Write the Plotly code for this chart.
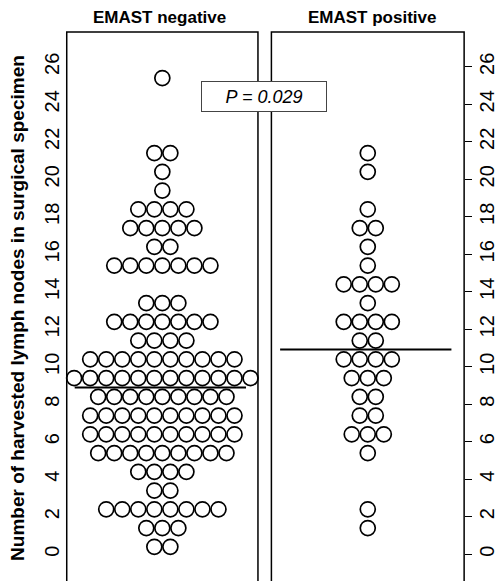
import plotly.graph_objects as go

# ---- data ----
group_names = ["EMAST negative", "EMAST positive"]

neg_levels = [25.4, 21.4, 20.4, 19.4, 18.4, 17.4, 16.4, 15.4, 13.4, 12.4, 11.4,
              10.4, 9.4, 8.4, 7.4, 6.4, 5.4, 4.4, 3.4, 2.4, 1.4, 0.4]
neg_counts = [1, 2, 1, 1, 4, 5, 2, 7, 3, 7, 4,
              10, 12, 9, 10, 10, 9, 4, 2, 8, 3, 2]

pos_levels = [21.4, 20.4, 18.4, 17.4, 16.4, 15.4, 14.4, 13.4, 12.4, 11.4,
              10.4, 9.4, 8.4, 7.4, 6.4, 5.4, 2.4, 1.4]
pos_counts = [1, 1, 1, 2, 1, 1, 4, 1, 4, 2,
              4, 3, 2, 2, 3, 1, 1, 1]

center_lines = [8.9, 10.92]
p_text = "P = 0.029"
y_ticks = list(range(0, 27, 2))
y_title = "Number of harvested lymph nodes in surgical specimen"

FONT = "Liberation Sans, Arial, Helvetica, sans-serif"
W, H = 498, 581
SPACING = 16.1  # horizontal spacing of swarm points (axis units = px)


def swarm(levels, counts):
    xs, ys = [], []
    for lv, c in zip(levels, counts):
        for i in range(c):
            xs.append((i - (c - 1) / 2) * SPACING)
            ys.append(lv)
    return xs, ys


fig = go.Figure()
for (lv, ct), xa in zip([(neg_levels, neg_counts), (pos_levels, pos_counts)], ["x", "x2"]):
    xs, ys = swarm(lv, ct)
    fig.add_trace(go.Scatter(
        x=xs, y=ys, xaxis=xa, yaxis="y", mode="markers",
        marker=dict(symbol="circle-open", size=15, color="black",
                    line=dict(width=1.7, color="black")),
        cliponaxis=False, showlegend=False, hoverinfo="y"))

# center lines
for xa, val in zip(["x", "x2"], center_lines):
    fig.add_shape(type="line", xref=xa, yref="y", x0=-88, x1=84, y0=val, y1=val,
                  line=dict(color="black", width=2))

# panel frames (bottom edge falls outside the picture)
top = 1 - 32 / H
for x0, x1 in [(67, 259), (272.5, 466)]:
    fig.add_shape(type="rect", xref="paper", yref="paper",
                  x0=x0 / W, x1=x1 / W, y0=-0.05, y1=top,
                  line=dict(color="black", width=1.5), fillcolor="rgba(0,0,0,0)")

ymin = (554.3 - H) / 18.75
ymax = (554.3 - 32) / 18.75

fig.update_layout(
    width=W, height=H,
    margin=dict(l=0, r=0, t=0, b=0),
    paper_bgcolor="white", plot_bgcolor="white",
    font=dict(family=FONT, color="black"),
    xaxis=dict(domain=[67 / W, 259 / W], range=[-96, 96], visible=False),
    xaxis2=dict(domain=[272.5 / W, 466 / W], range=[-96.75, 96.75], visible=False),
    yaxis=dict(domain=[0, top], range=[ymin, ymax], anchor="x", side="left",
               tickvals=y_ticks, ticktext=[str(v) for v in y_ticks],
               ticks="", showgrid=False, zeroline=False, showline=False,
               tickangle=-90, tickfont=dict(size=20, family=FONT, color="black"),
               ticklabelstandoff=3),
    yaxis2=dict(domain=[0, top], range=[ymin, ymax], anchor="x2", side="right",
                overlaying="y",
                tickvals=y_ticks, ticktext=[str(v) for v in y_ticks],
                ticks="outside", ticklen=7, tickwidth=1.3, tickcolor="black",
                showgrid=False, zeroline=False, showline=False,
                tickangle=-90, tickfont=dict(size=20, family=FONT, color="black"),
                ticklabelstandoff=-2),
)

# a dummy invisible trace to activate yaxis2
fig.add_trace(go.Scatter(x=[0], y=[0], xaxis="x2", yaxis="y2", mode="markers",
                         marker=dict(opacity=0), showlegend=False, hoverinfo="skip"))

# panel titles
for name, xc in zip(group_names, [160.5, 373]):
    fig.add_annotation(text="<b>" + name + "</b>", xref="paper", yref="paper",
                       x=xc / W, y=1 - 17 / H, xanchor="center", yanchor="middle",
                       showarrow=False, font=dict(size=17, family=FONT, color="black"))

# y title
fig.add_annotation(text="<b>" + y_title + "</b>", xref="paper", yref="paper",
                   x=17 / W, y=1 - 308 / H, xanchor="center", yanchor="middle",
                   textangle=-90, showarrow=False,
                   font=dict(size=19, family=FONT, color="black"))

# P value box
fig.add_annotation(text="<i>" + p_text + "</i>", xref="paper", yref="paper",
                   x=265.3 / W, y=1 - 96.6 / H, xanchor="center", yanchor="middle",
                   showarrow=False, width=124, height=29, borderpad=0,
                   bordercolor="#444", borderwidth=1, bgcolor="white",
                   font=dict(size=18, family=FONT, color="black"))

fig.write_html("out.html")
